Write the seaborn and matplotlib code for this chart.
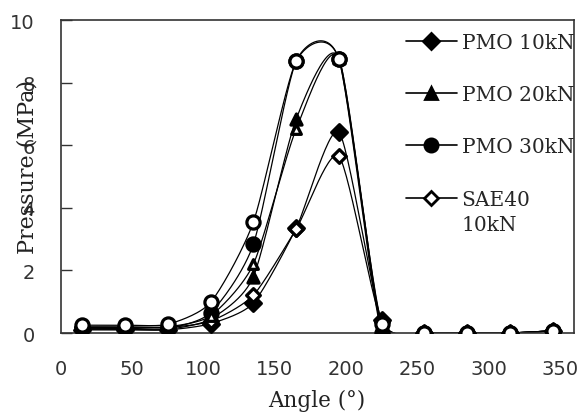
import numpy as np
import pandas as pd
import matplotlib
matplotlib.use("Agg")
import matplotlib.pyplot as plt
import seaborn as sns
from matplotlib.lines import Line2D
from matplotlib.legend_handler import HandlerLine2D

sns.set_theme(style="white")
plt.rcParams['font.family'] = ['DejaVu Sans']
plt.rcParams['xtick.direction'] = 'in'
plt.rcParams['ytick.direction'] = 'in'
plt.rcParams['xtick.major.pad'] = 19
plt.rcParams['ytick.major.pad'] = 19
SERIF = ['DejaVu Serif']

angles = [15, 45, 75, 105, 135, 165, 195, 225, 255, 285, 315, 345]
pmo_10 = [0.10, 0.10, 0.10, 0.30, 0.96, 3.35, 6.42, 0.40, 0.0, 0.0, 0.0, 0.07]
pmo_20 = [0.12, 0.12, 0.12, 0.45, 1.80, 6.84, 8.78, 0.10, 0.0, 0.0, 0.0, 0.07]
pmo_30 = [0.15, 0.15, 0.15, 0.65, 2.84, 8.69, 8.75, 0.00, 0.0, 0.0, 0.0, 0.07]
sae_10 = [0.18, 0.18, 0.18, 0.38, 1.21, 3.32, 5.65, 0.35, 0.0, 0.0, 0.0, 0.07]
sae_20 = [0.20, 0.20, 0.20, 0.55, 2.20, 6.52, 8.78, 0.20, 0.0, 0.0, 0.0, 0.07]
sae_30 = [0.25, 0.25, 0.28, 0.98, 3.55, 8.69, 8.75, 0.29, 0.0, 0.0, 0.0, 0.07]

series = [
    ("PMO 10kN", pmo_10, "D", "black", 8),
    ("PMO 20kN", pmo_20, "^", "black", 8),
    ("PMO 30kN", pmo_30, "o", "black", 9.5),
    ("SAE40\n10kN", sae_10, "D", "white", 7),
    ("SAE40 20kN", sae_20, "^", "white", 7),
    ("SAE40 30kN", sae_30, "o", "white", 9.5),
]
legend_names = ["PMO 10kN", "PMO 20kN", "PMO 30kN", "SAE40\n10kN"]


def smooth(x, y, n=30, k=9.0):
    # Bezier smoothing through the points (like a spreadsheet "smoothed line")
    x = np.asarray(x, float)
    y = np.asarray(y, float)
    px = np.concatenate([[x[0]], x, [x[-1]]])
    py = np.concatenate([[y[0]], y, [y[-1]]])
    xs, ys = [], []
    for i in range(1, len(px) - 2):
        p0, p1, p2, p3 = (np.array([px[j], py[j]]) for j in (i - 1, i, i + 1, i + 2))
        c1 = p1 + (p2 - p0) / k
        c2 = p2 - (p3 - p1) / k
        t = np.linspace(0, 1, n)[:, None]
        b = ((1 - t) ** 3) * p1 + 3 * ((1 - t) ** 2) * t * c1 + 3 * (1 - t) * t ** 2 * c2 + t ** 3 * p2
        xs.append(b[:, 0])
        ys.append(b[:, 1])
    return np.concatenate(xs), np.concatenate(ys)


class HandlerTopLine(HandlerLine2D):
    def __init__(self, shift=0.0, **kw):
        super().__init__(**kw)
        self.shift = shift

    def create_artists(self, legend, orig_handle, xdescent, ydescent, width, height, fontsize, trans):
        arts = super().create_artists(legend, orig_handle, xdescent, ydescent, width, height, fontsize, trans)
        for a in arts:
            a.set_ydata(np.asarray(a.get_ydata(), float) + self.shift)
        return arts


fig = plt.figure(figsize=(5.84, 4.14), dpi=100)
ax = fig.add_axes([0.1045, 0.1932, 0.8785, 0.7558])

for name, vals, mk, fc, ms in series:
    sx, sy = smooth(angles, vals)
    ax.plot(sx, sy, color="black", lw=0.9, zorder=2)
    df = pd.DataFrame({"angle": angles, "p": vals})
    sns.scatterplot(data=df, x="angle", y="p", ax=ax, marker=mk, s=ms ** 2,
                    color=fc, edgecolor="black", linewidth=2.3, zorder=3, legend=False)

ax.set_xlim(0, 360)
ax.set_ylim(0, 10)
ax.set_xticks(range(0, 351, 50))
ax.set_yticks(range(0, 11, 2))
ax.xaxis.set_tick_params(which="major", direction="in", length=0, pad=19, labelsize=14,
                         labelcolor="#333333", bottom=True)
ax.yaxis.set_tick_params(which="major", direction="in", length=8, width=1, pad=19, labelsize=14,
                         labelcolor="#333333", color="#333333", left=True)
for sp in ax.spines.values():
    sp.set_color("#333333")
    sp.set_linewidth(1.2)

ax.set_xlabel("Angle (°)", fontsize=15.5, color="#222222", family=SERIF)
ax.xaxis.set_label_coords(0.498, -0.179)
ax.set_ylabel("Pressure (MPa)", fontsize=16, color="#222222", family=SERIF)
ax.yaxis.set_label_coords(-0.043, 0.534)

handles = []
handler_map = {}
for name, vals, mk, fc, ms in series:
    if name in legend_names:
        h = Line2D([0], [0], color="black", lw=1.2, marker=mk, markersize=ms,
                   markerfacecolor=fc, markeredgecolor="black", markeredgewidth=2)
        handles.append(h)
        if "\n" in name:
            handler_map[h] = HandlerTopLine(shift=10.0)
leg = ax.legend(handles, legend_names, loc="upper right", bbox_to_anchor=(1.016, 0.985),
                frameon=False, handlelength=2.5, labelspacing=1.65,
                handletextpad=0.25, borderaxespad=0.0, handler_map=handler_map,
                prop={"family": SERIF, "size": 14.5})
for t in leg.get_texts():
    t.set_linespacing(1.45)

fig.savefig("out.png", dpi=100)
